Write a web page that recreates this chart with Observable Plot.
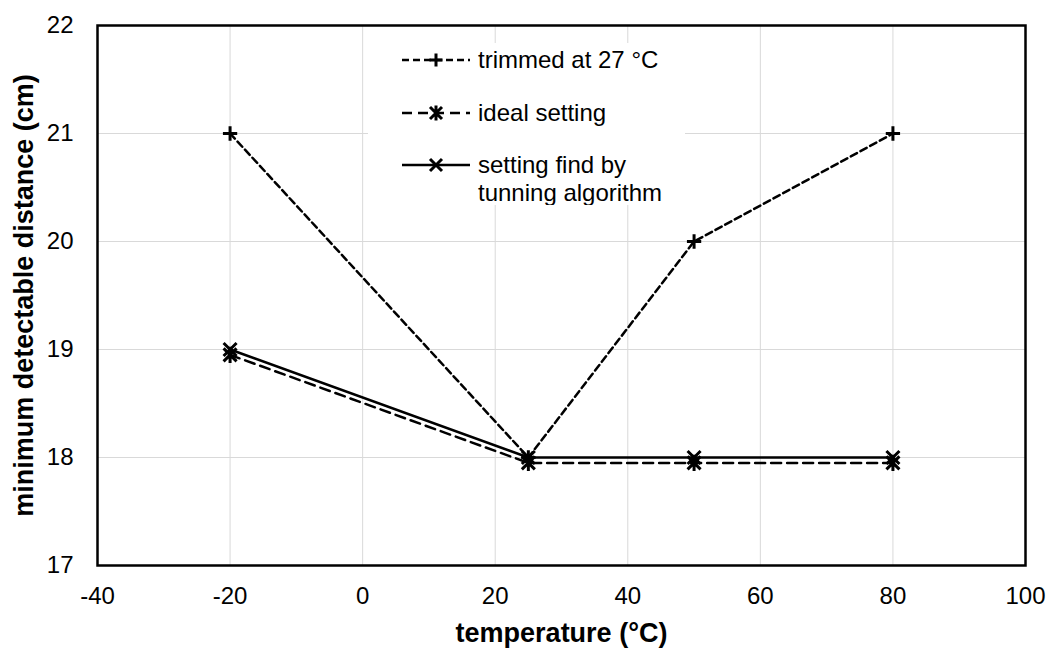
<!DOCTYPE html>
<html>
<head>
<meta charset="utf-8">
<script src="https://cdn.jsdelivr.net/npm/d3@7"></script>
<script src="https://cdn.jsdelivr.net/npm/@observablehq/plot@0.6"></script>
<style>
  body { margin: 0; background: #fff; }
  #chart { position: relative; width: 1049px; height: 648px; font-family: "Liberation Sans", Arial, sans-serif; }
  #chart g[aria-label="x-axis label"] text, #chart g[aria-label="y-axis label"] text { font-weight: bold; font-size: 27px; }
  #legend { position: absolute; left: 368px; top: 43px; width: 317px; height: 162px; background: #fff; }
  #legend text { font-family: "Liberation Sans", Arial, sans-serif; font-size: 24px; fill: #000; }
</style>
</head>
<body>
<div id="chart"></div>
<script>
// ---- data ----
const temps = [-20, 25, 50, 80];
const trimmed = [21, 18, 20, 21];
const ideal = [18.95, 17.95, 17.95, 17.95];
const tuning = [19, 18, 18, 18];
const seriesNames = ["trimmed at 27 °C", "ideal setting", ["setting find by", "tunning algorithm"]];
const xTicks = [-40, -20, 0, 20, 40, 60, 80, 100];
const yTicks = [17, 18, 19, 20, 21, 22];
const xTitle = "temperature (°C)";
const yTitle = "minimum detectable distance (cm)";

// ---- custom marker symbols ----
const plusSym = { draw(ctx, size) { const r = Math.sqrt(size / Math.PI) * 1.1;
  ctx.moveTo(-r, 0); ctx.lineTo(r, 0); ctx.moveTo(0, -r); ctx.lineTo(0, r); } };
const timesSym = { draw(ctx, size) { const r = Math.sqrt(size / Math.PI);
  ctx.moveTo(-r, -r); ctx.lineTo(r, r); ctx.moveTo(-r, r); ctx.lineTo(r, -r); } };
const starSym = { draw(ctx, size) { const r = Math.sqrt(size / Math.PI);
  ctx.moveTo(-r, -r); ctx.lineTo(r, r); ctx.moveTo(-r, r); ctx.lineTo(r, -r);
  ctx.moveTo(0, -r * 1.25); ctx.lineTo(0, r * 1.25); } };

const series = [
  { name: seriesNames[0], values: trimmed, dash: "7,4", symbol: plusSym },
  { name: seriesNames[1], values: ideal, dash: "10,6", symbol: starSym },
  { name: seriesNames[2], values: tuning, dash: null, symbol: timesSym }
];
const fmt = d => String(d);

const marks = [
  Plot.gridX(xTicks, { stroke: "#d9d9d9", strokeOpacity: 1, strokeWidth: 1 }),
  Plot.gridY(yTicks, { stroke: "#d9d9d9", strokeOpacity: 1, strokeWidth: 1 }),
  Plot.axisX(xTicks, { tickSize: 0, tickPadding: 21, fontSize: 24, tickFormat: fmt, label: xTitle, labelAnchor: "center", labelOffset: 76, labelArrow: "none" }),
  Plot.axisY(yTicks, { tickSize: 0, tickPadding: 24, fontSize: 24, tickFormat: fmt, label: yTitle, labelAnchor: "center", labelOffset: 84, labelArrow: "none" }),
];
for (const s of series) {
  const data = temps.map((t, i) => ({ x: t, y: s.values[i] }));
  marks.push(Plot.line(data, { x: "x", y: "y", stroke: "black", strokeWidth: 2.5, strokeDasharray: s.dash || undefined }));
}
for (const s of series) {
  const data = temps.map((t, i) => ({ x: t, y: s.values[i] }));
  marks.push(Plot.dot(data, { x: "x", y: "y", symbol: s.symbol, r: 6.5, stroke: "black", strokeWidth: 3, fill: "none" }));
}
marks.push(Plot.frame({ stroke: "black", strokeWidth: 2.5 }));

const plot = Plot.plot({
  width: 1049, height: 648,
  marginLeft: 97, marginRight: 24, marginTop: 25, marginBottom: 83,
  style: { fontFamily: "Liberation Sans, Arial, sans-serif", fontSize: "24px", color: "#000", background: "#fff" },
  x: { domain: [-40, 100] },
  y: { domain: [17, 22] },
  marks
});
const chart = document.getElementById("chart");
chart.appendChild(plot);

// ---- legend (HTML overlay) ----
const legend = document.createElement("div");
legend.id = "legend";
const rowsY = [17, 70, 122];
const svgNS = "http://www.w3.org/2000/svg";
const lsvg = document.createElementNS(svgNS, "svg");
lsvg.setAttribute("width", 317); lsvg.setAttribute("height", 162);
series.forEach((s, i) => {
  const y = rowsY[i];
  const line = document.createElementNS(svgNS, "line");
  line.setAttribute("x1", 34); line.setAttribute("x2", 102);
  line.setAttribute("y1", y); line.setAttribute("y2", y);
  line.setAttribute("stroke", "black"); line.setAttribute("stroke-width", 2.5);
  if (s.dash) line.setAttribute("stroke-dasharray", s.dash);
  lsvg.appendChild(line);
  const p = d3.path(); s.symbol.draw(p, Math.PI * 36);
  const sym = document.createElementNS(svgNS, "path");
  sym.setAttribute("d", p.toString());
  sym.setAttribute("transform", `translate(68,${y})`);
  sym.setAttribute("stroke", "black"); sym.setAttribute("stroke-width", 3); sym.setAttribute("fill", "none");
  lsvg.appendChild(sym);
  const lines = Array.isArray(s.name) ? s.name : [s.name];
  lines.forEach((txt, j) => {
    const t = document.createElementNS(svgNS, "text");
    t.setAttribute("x", 110); t.setAttribute("y", y + j * 28);
    t.setAttribute("dy", "0.35em");
    t.textContent = txt;
    lsvg.appendChild(t);
  });
});
legend.appendChild(lsvg);
chart.appendChild(legend);
</script>
</body>
</html>
